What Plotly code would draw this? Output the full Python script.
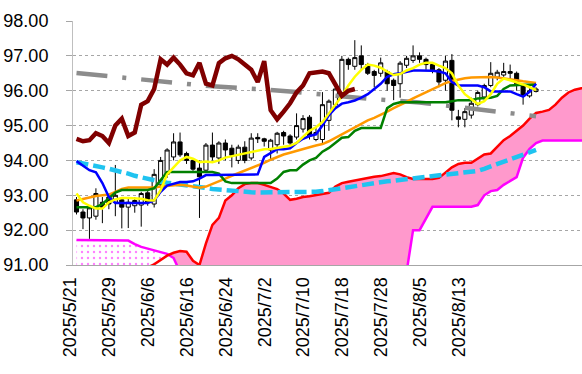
import numpy as np
import pandas as pd
import plotly.graph_objects as go

# ---------------- data ----------------
START_DATE = "2025-05-21"
N_DAYS = 72
DATES = pd.bdate_range(START_DATE, periods=N_DAYS)
TICK_EVERY = 6
CHIKOU_SHIFT = 28

OPEN = [92.87, 92.52, 92.35, 92.40, 92.80, 92.95, 92.80, 92.87, 92.66, 92.70,
        92.72, 93.07, 92.75, 93.30, 93.60, 94.10, 94.53, 94.20, 94.00, 93.78,
        93.72, 94.44, 94.07, 94.50, 94.35, 94.00, 94.38, 94.07, 94.66, 94.62,
        94.30, 94.45, 94.80, 94.70, 94.67, 94.90, 95.24, 94.60, 94.60, 95.15,
        95.60, 95.95, 96.90, 96.70, 97.00, 96.75, 96.55, 96.50, 96.55, 96.30,
        96.20, 96.73, 96.87, 97.00, 96.90, 96.75, 96.60, 96.30, 96.87, 95.25,
        95.18, 95.30, 95.60, 95.82, 96.15, 96.39, 96.45, 96.55, 96.50, 96.15,
        95.85, 95.98]
HIGH = [92.95, 92.60, 92.70, 93.20, 92.95, 93.00, 93.87, 92.95, 92.90, 92.95,
        93.10, 93.15, 93.75, 94.10, 94.35, 94.78, 94.80, 94.25, 94.05, 94.00,
        94.50, 94.80, 94.55, 94.60, 94.45, 94.45, 94.55, 94.78, 94.78, 94.65,
        94.62, 94.82, 94.85, 94.75, 95.35, 95.30, 95.30, 94.95, 95.96, 95.75,
        96.10, 97.00, 96.95, 97.45, 97.30, 96.80, 96.60, 96.95, 96.60, 96.35,
        96.85, 97.00, 97.30, 97.10, 96.95, 96.80, 96.65, 97.00, 97.05, 95.45,
        95.50, 95.80, 96.00, 96.20, 96.82, 96.60, 96.80, 96.75, 96.55, 96.20,
        96.15, 96.10]
LOW = [92.45, 92.03, 91.75, 92.30, 92.20, 92.60, 92.40, 92.05, 92.06, 92.50,
       92.10, 92.70, 92.65, 93.10, 93.50, 94.00, 94.10, 93.90, 93.70, 92.35,
       93.65, 94.00, 93.90, 94.00, 93.80, 93.90, 93.92, 94.00, 94.50, 94.40,
       94.00, 94.20, 94.45, 94.40, 94.60, 94.80, 94.60, 94.55, 94.50, 94.85,
       95.50, 95.90, 96.60, 96.60, 96.60, 96.45, 96.10, 96.40, 96.00, 95.73,
       95.80, 96.65, 96.80, 96.80, 96.60, 96.50, 96.10, 96.00, 95.15, 94.95,
       94.95, 95.20, 95.55, 95.70, 96.10, 96.30, 96.40, 96.30, 96.00, 95.60,
       95.80, 95.95]
CLOSE = [92.52, 92.35, 92.64, 93.05, 92.65, 92.75, 93.00, 92.66, 92.80, 92.85,
         93.05, 92.80, 93.60, 94.00, 94.30, 94.53, 94.16, 94.00, 93.75, 93.53,
         94.44, 94.10, 94.50, 94.30, 94.15, 94.38, 94.00, 94.64, 94.62, 94.55,
         94.58, 94.78, 94.70, 94.50, 95.00, 95.20, 94.70, 94.80, 95.60, 95.70,
         96.05, 96.90, 96.75, 96.95, 96.75, 96.50, 96.44, 96.80, 96.20, 96.15,
         96.79, 96.93, 97.00, 96.90, 96.75, 96.60, 96.25, 96.85, 95.44, 95.18,
         95.40, 95.64, 95.95, 96.15, 96.50, 96.53, 96.55, 96.50, 96.20, 95.85,
         96.00, 96.05]

MA_SHORT = [93.05, 92.80, 92.70, 92.62, 92.62, 92.80, 92.88, 92.92, 92.92, 92.92,
            92.90, 92.86, 92.85, 93.15, 93.60, 93.80, 94.00, 94.10, 94.05, 93.95,
            93.97, 93.95, 94.00, 94.08, 94.12, 94.18, 94.22, 94.26, 94.30, 94.32,
            94.33, 94.36, 94.38, 94.42, 94.50, 94.68, 94.85, 94.95, 95.10, 95.35,
            95.60, 95.85, 96.15, 96.40, 96.60, 96.75, 96.72, 96.66, 96.55, 96.45,
            96.48, 96.58, 96.65, 96.75, 96.80, 96.80, 96.72, 96.65, 96.50, 96.15,
            95.90, 95.75, 95.62, 95.70, 95.90, 96.20, 96.35, 96.30, 96.25, 96.18,
            96.10, 96.02]
TENKAN = [93.98, 93.85, 93.72, 93.66, 93.35, 92.95, 92.78, 92.78, 92.78, 92.78,
          92.78, 92.78, 92.85, 93.10, 93.28, 93.33, 93.38, 93.38, 93.40, 93.48,
          93.58, 93.58, 93.58, 93.58, 93.58, 93.58, 93.58, 93.58, 93.60, 94.10,
          94.20, 94.32, 94.32, 94.35, 94.50, 94.62, 94.70, 94.75, 95.00, 95.30,
          95.50, 95.63, 95.67, 95.72, 95.80, 95.90, 96.05, 96.20, 96.40, 96.47,
          96.50, 96.55, 96.58, 96.58, 96.58, 96.57, 96.55, 96.50, 96.25, 96.15,
          96.15, 96.15, 96.15, 96.10, 95.98, 95.98, 95.98, 95.98, 95.90, 95.83,
          95.97, 96.20]
KIJUN = [92.66, 92.66, 92.66, 92.66, 92.75, 92.92, 93.08, 93.15, 93.15, 93.15,
         93.15, 93.15, 93.20, 93.42, 93.67, 93.67, 93.67, 93.67, 93.67, 93.67,
         93.67, 93.67, 93.62, 93.40, 93.35, 93.35, 93.35, 93.35, 93.35, 93.35,
         93.35, 93.48, 93.67, 93.72, 93.72, 93.88, 94.00, 94.07, 94.25, 94.36,
         94.50, 94.65, 94.67, 94.85, 94.93, 94.93, 94.93, 94.93, 95.50, 95.62,
         95.67, 95.67, 95.67, 95.67, 95.67, 95.67, 95.67, 95.67, 95.70, 95.73,
         95.73, 95.73, 95.78, 95.80, 95.80, 95.85, 96.05, 96.15, 96.17, 96.17,
         96.17, 96.17]
MA_MID = [92.85, 92.90, 92.95, 92.98, 93.00, 93.02, 93.10, 93.18, 93.22, 93.22,
          93.22, 93.22, 93.22, 93.25, 93.27, 93.30, 93.30, 93.28, 93.24, 93.22,
          93.25, 93.32, 93.40, 93.48, 93.56, 93.63, 93.70, 93.78, 93.85, 93.93,
          94.02, 94.10, 94.17, 94.22, 94.28, 94.33, 94.38, 94.43, 94.47, 94.55,
          94.65, 94.75, 94.85, 94.95, 95.05, 95.15, 95.22, 95.30, 95.40, 95.50,
          95.58, 95.68, 95.78, 95.87, 95.96, 96.05, 96.13, 96.22, 96.28, 96.33,
          96.36, 96.38, 96.39, 96.39, 96.39, 96.38, 96.36, 96.33, 96.30, 96.27,
          96.25, 96.22]
MA_LONG = [93.95, 93.92, 93.88, 93.84, 93.80, 93.76, 93.72, 93.68, 93.62, 93.56,
           93.51, 93.47, 93.43, 93.39, 93.36, 93.34, 93.31, 93.28, 93.26, 93.24,
           93.21, 93.18, 93.16, 93.14, 93.12, 93.11, 93.10, 93.09, 93.08, 93.08,
           93.07, 93.07, 93.07, 93.07, 93.07, 93.08, 93.09, 93.10, 93.12, 93.15,
           93.19, 93.22, 93.25, 93.28, 93.31, 93.34, 93.36, 93.38, 93.40, 93.42,
           93.44, 93.46, 93.48, 93.50, 93.52, 93.54, 93.56, 93.58, 93.60, 93.62,
           93.63, 93.65, 93.70, 93.76, 93.83, 93.90, 93.97, 94.04, 94.12, 94.19,
           94.25, 94.30]
MA_VLONG = [96.51, 96.49, 96.47, 96.46, 96.44, 96.42, 96.40, 96.38, 96.36, 96.34,
            96.31, 96.29, 96.27, 96.25, 96.23, 96.21, 96.19, 96.18, 96.16, 96.15,
            96.14, 96.13, 96.12, 96.11, 96.10, 96.09, 96.08, 96.07, 96.06, 96.05,
            96.04, 96.02, 96.00, 95.98, 95.96, 95.94, 95.92, 95.90, 95.88, 95.86,
            95.84, 95.82, 95.80, 95.79, 95.78, 95.77, 95.76, 95.75, 95.74, 95.73,
            95.72, 95.70, 95.68, 95.66, 95.64, 95.62, 95.60, 95.58, 95.56, 95.54,
            95.52, 95.50, 95.48, 95.46, 95.44, 95.42, 95.40, 95.37, 95.35, 95.33,
            95.30, 95.27]
SENKOU_A = [90.40, 90.40, 90.40, 90.40, 90.40, 90.40, 90.40, 90.40, 90.50, 90.60,
            90.75, 90.93, 91.02, 91.15, 91.27, 91.35, 91.40, 91.38, 91.12, 91.00,
            91.62, 92.15, 92.35, 92.85, 93.00, 93.20, 93.32, 93.35, 93.35, 93.30,
            93.24, 93.18, 93.05, 92.87, 92.90, 92.95, 92.97, 93.00, 93.03, 93.07,
            93.25, 93.35, 93.39, 93.43, 93.46, 93.50, 93.53, 93.55, 93.60, 93.64,
            93.60, 93.52, 93.47, 93.47, 93.47, 93.47, 93.50, 93.65, 93.80, 93.90,
            93.93, 93.93, 94.05, 94.17, 94.20, 94.40, 94.58, 94.70, 94.85, 95.00,
            95.20, 95.36, 95.40, 95.45, 95.60, 95.80, 95.95, 96.03, 96.07, 96.10]
SENKOU_B = [91.72, 91.72, 91.72, 91.72, 91.72, 91.72, 91.72, 91.72, 91.70, 91.60,
            91.52, 91.47, 91.42, 91.37, 91.32, 91.20, 90.80, 90.60, 90.60, 90.60,
            90.60, 90.60, 90.60, 90.60, 90.60, 90.60, 90.60, 90.60, 90.60, 90.60,
            90.60, 90.60, 90.60, 90.60, 90.60, 90.60, 90.60, 90.60, 90.60, 90.60,
            90.60, 90.60, 90.60, 90.60, 90.60, 90.60, 90.60, 90.60, 90.60, 90.60,
            90.60, 90.80, 92.00, 92.00, 92.35, 92.67, 92.67, 92.67, 92.67, 92.67,
            92.67, 92.67, 92.72, 93.00, 93.12, 93.15, 93.30, 93.42, 93.52, 94.08,
            94.33, 94.50, 94.57, 94.57, 94.57, 94.57, 94.57, 94.57, 94.57, 94.57]

Y_TICKS = [91, 92, 93, 94, 95, 96, 97, 98]

# ---------------- derived ----------------
x_days = np.arange(N_DAYS)
tick_idx = list(range(0, N_DAYS - 6, TICK_EVERY))
tick_text = [f"{d.year}/{d.month}/{d.day}" for d in DATES[tick_idx]]

x_cloud = np.arange(len(SENKOU_A), dtype=float)
A = np.array(SENKOU_A)
B = np.array(SENKOU_B)
diff = A - B
segments = []
cur_x, cur_a, cur_b = [x_cloud[0]], [A[0]], [B[0]]
cur_sign = diff[0] >= 0
for i in range(1, len(A)):
    s = diff[i] >= 0
    if s != cur_sign:
        t = diff[i - 1] / (diff[i - 1] - diff[i])
        xc = x_cloud[i - 1] + t
        yc = A[i - 1] + t * (A[i] - A[i - 1])
        cur_x.append(xc); cur_a.append(yc); cur_b.append(yc)
        segments.append((cur_sign, cur_x, cur_a, cur_b))
        cur_x, cur_a, cur_b = [xc], [yc], [yc]
        cur_sign = s
    cur_x.append(x_cloud[i]); cur_a.append(A[i]); cur_b.append(B[i])
segments.append((cur_sign, cur_x, cur_a, cur_b))

fig = go.Figure()

PINK = "#FF99CC"
for a_up, sx, sa, sb in segments:
    lower, upper = (sb, sa) if a_up else (sa, sb)
    fig.add_trace(go.Scatter(x=sx, y=lower, mode="lines", line=dict(width=0),
                             hoverinfo="skip", showlegend=False))
    if a_up:
        fig.add_trace(go.Scatter(x=sx, y=upper, mode="lines", line=dict(width=0),
                                 fill="tonexty", fillcolor=PINK,
                                 hoverinfo="skip", showlegend=False))
    else:
        fig.add_trace(go.Scatter(x=sx, y=upper, mode="lines", line=dict(width=0),
                                 fill="tonexty", fillcolor="white",
                                 fillpattern=dict(shape=".", size=6, solidity=0.12,
                                                  fgcolor="#FF00FF", bgcolor="white"),
                                 hoverinfo="skip", showlegend=False))

fig.add_trace(go.Scatter(x=x_cloud, y=SENKOU_B, mode="lines",
                         line=dict(color="#FF00FF", width=2.5), showlegend=False))
fig.add_trace(go.Scatter(x=x_cloud, y=SENKOU_A, mode="lines",
                         line=dict(color="#FF0000", width=2.5), showlegend=False))

fig.add_trace(go.Candlestick(
    x=x_days, open=OPEN, high=HIGH, low=LOW, close=CLOSE,
    increasing=dict(line=dict(color="black", width=1), fillcolor="white"),
    decreasing=dict(line=dict(color="black", width=1), fillcolor="black"),
    whiskerwidth=0, showlegend=False))

fig.add_trace(go.Scatter(x=x_days, y=MA_VLONG, mode="lines",
                         line=dict(color="#8C8C8C", width=4.5, dash="31px,15px,4px,15px"),
                         showlegend=False))
fig.add_trace(go.Scatter(x=x_days, y=MA_LONG, mode="lines",
                         line=dict(color="#1FC3F0", width=4.5, dash="12px,5px"),
                         showlegend=False))
fig.add_trace(go.Scatter(x=x_days, y=MA_MID, mode="lines",
                         line=dict(color="#FF9900", width=2.5), showlegend=False))
fig.add_trace(go.Scatter(x=x_days, y=KIJUN, mode="lines",
                         line=dict(color="#008000", width=2.5), showlegend=False))
fig.add_trace(go.Scatter(x=x_days, y=TENKAN, mode="lines",
                         line=dict(color="#0000FF", width=2.5), showlegend=False))
fig.add_trace(go.Scatter(x=x_days, y=MA_SHORT, mode="lines",
                         line=dict(color="#FFFF00", width=2.5), showlegend=False))

chikou_y = CLOSE[CHIKOU_SHIFT:]
chikou_x = x_days[:len(chikou_y)]
fig.add_trace(go.Scatter(x=chikou_x, y=chikou_y, mode="lines",
                         line=dict(color="#800000", width=4.5), showlegend=False))

FONT = "Liberation Sans, Arial, sans-serif"
fig.update_layout(
    width=582, height=374,
    margin=dict(l=73, r=0, t=21, b=109, autoexpand=False),
    paper_bgcolor="white", plot_bgcolor="white",
    font=dict(family=FONT, size=18, color="black"),
    boxgap=0.1,
    showlegend=False,
    hovermode=False,
)
fig.update_xaxes(
    range=[-0.54, 78.1],
    tickmode="array", tickvals=tick_idx, ticktext=tick_text,
    tickangle=-90, ticks="", showgrid=False, zeroline=False,
    showline=True, linecolor="#A6A6A6", linewidth=1, automargin=False,
    ticklabelshift=-6, ticklabelstandoff=4,
    rangeslider=dict(visible=False),
    tickfont=dict(size=18, family=FONT, color="black"),
)
fig.update_yaxes(
    range=[91, 98], tickmode="array", tickvals=Y_TICKS,
    tickformat=".2f", ticks="outside", ticklen=6, tickcolor="#A6A6A6",
    showgrid=True, gridcolor="#A6A6A6", griddash="dot", gridwidth=1,
    zeroline=False, showline=True, linecolor="#BFBFBF", linewidth=1,
    automargin=False, ticklabelstandoff=14,
    tickfont=dict(size=18, family=FONT, color="black"),
)

fig.write_html("out.html",
               config={"displayModeBar": False, "staticPlot": True},
               post_script="document.body.style.margin='0px';"
                           "document.body.style.padding='0px';")
